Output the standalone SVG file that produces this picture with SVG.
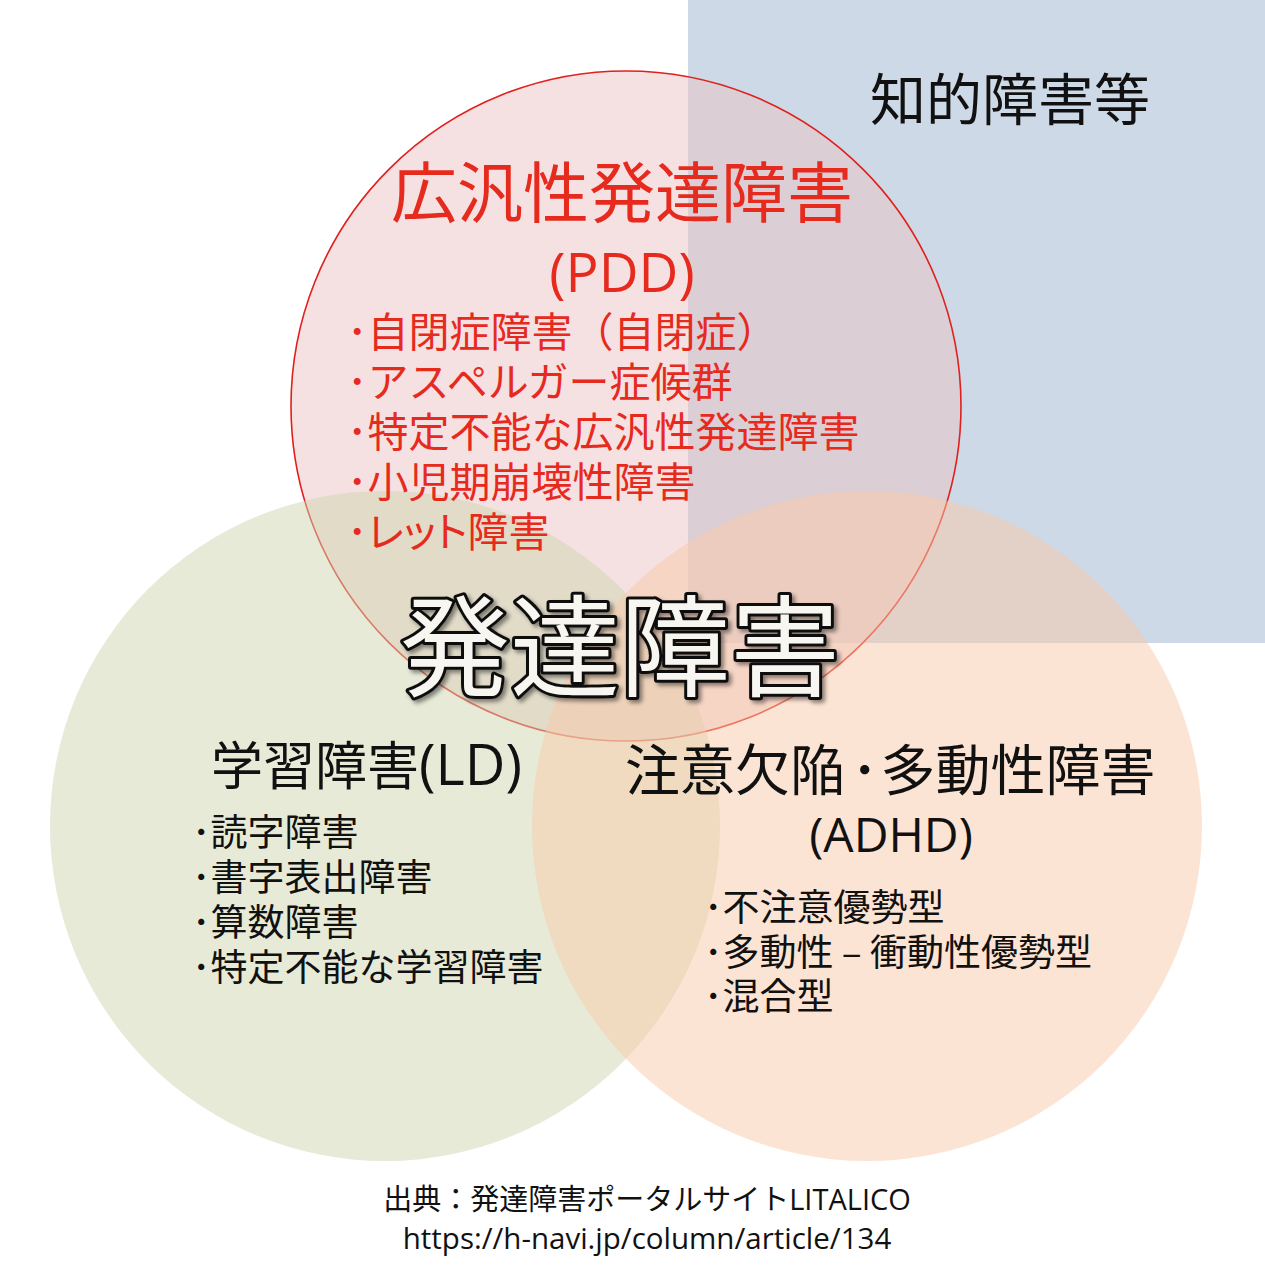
<svg xmlns="http://www.w3.org/2000/svg" width="1265" height="1265" viewBox="0 0 1265 1265">
  <defs>
    <style>
      .jp { font-family: "Noto Sans CJK JP", "Noto Sans CJK SC", sans-serif; }
      .lat { font-family: "Open Sans", "Noto Sans CJK JP", sans-serif; }
      .red { fill: #e62a1e; }
      .blk { fill: #111111; }
      .palt { font-feature-settings: "palt"; }
      .big { fill: #f8f6f0; stroke: #111111; stroke-width: 6; paint-order: stroke; stroke-linejoin: round; }
    </style>
    <filter id="shadow" x="-10%" y="-20%" width="120%" height="140%">
      <feDropShadow dx="3" dy="3" stdDeviation="2" flood-color="#000000" flood-opacity="0.45"/>
    </filter>
  </defs>
  <rect x="0" y="0" width="1265" height="1265" fill="#ffffff"/>

  <!-- shapes -->
  <g id="node-intellectual-shape">
    <rect x="688" y="0" width="577" height="643" fill="#cdd9e7"/>
  </g>
  <g id="node-pdd-shape">
    <circle cx="626" cy="406" r="335" fill="#ebc3c3" fill-opacity="0.5" stroke="#e0201c" stroke-width="1.6"/>
  </g>
  <g id="node-ld-shape">
    <circle cx="385" cy="826" r="335" fill="#cdd5af" fill-opacity="0.5"/>
  </g>
  <g id="node-adhd-shape">
    <circle cx="867" cy="826" r="335" fill="#f9caa9" fill-opacity="0.5"/>
  </g>

  <g id="connectors"></g>

  <!-- texts -->
  <g id="node-intellectual">
    <text class="jp blk" x="870" y="120" font-size="56">知的障害等</text>
  </g>

  <g id="node-pdd" class="red">
    <text class="jp" x="622" y="217" font-size="66" text-anchor="middle">広汎性発達障害</text>
    <text class="lat" x="622" y="292" font-size="55" text-anchor="middle">(PDD)</text>
    <g class="jp" font-size="41">
      <text x="347" y="347">･自閉症障害（自閉症）</text>
      <text x="347" y="397">･アスペルガー症候群</text>
      <text x="347" y="447">･特定不能な広汎性発達障害</text>
      <text x="347" y="497">･小児期崩壊性障害</text>
      <text x="347" y="547">･<tspan class="palt">レット</tspan>障害</text>
    </g>
  </g>

  <g id="node-title" filter="url(#shadow)">
    <text class="jp big" x="620" y="688" font-size="110" text-anchor="middle">発達障害</text>
  </g>

  <g id="node-ld" class="blk">
    <text class="jp" x="211" y="785" font-size="52">学習障害<tspan class="lat" font-size="56">(LD)</tspan></text>
    <g class="jp" font-size="37">
      <text x="192" y="846">･読字障害</text>
      <text x="192" y="891">･書字表出障害</text>
      <text x="192" y="936">･算数障害</text>
      <text x="192" y="981">･特定不能な学習障害</text>
    </g>
  </g>

  <g id="node-adhd" class="blk">
    <text class="jp" x="625" y="790" font-size="55">注意欠陥<tspan dx="6">･</tspan><tspan dx="2">多動性障害</tspan></text>
    <text class="lat" x="891" y="852" font-size="48" text-anchor="middle">(ADHD)</text>
    <g class="jp" font-size="37">
      <text x="704" y="921">･不注意優勢型</text>
      <text x="704" y="966">･多動性 – 衝動性優勢型</text>
      <text x="704" y="1010">･混合型</text>
    </g>
  </g>

  <g id="node-source" class="blk">
    <text class="jp" x="647" y="1210" font-size="29" text-anchor="middle">出典：発達障害ポータルサイト<tspan class="lat">LITALICO</tspan></text>
    <text class="lat" x="647" y="1249" font-size="29.5" text-anchor="middle">https://h-navi.jp/column/article/134</text>
  </g>
</svg>
